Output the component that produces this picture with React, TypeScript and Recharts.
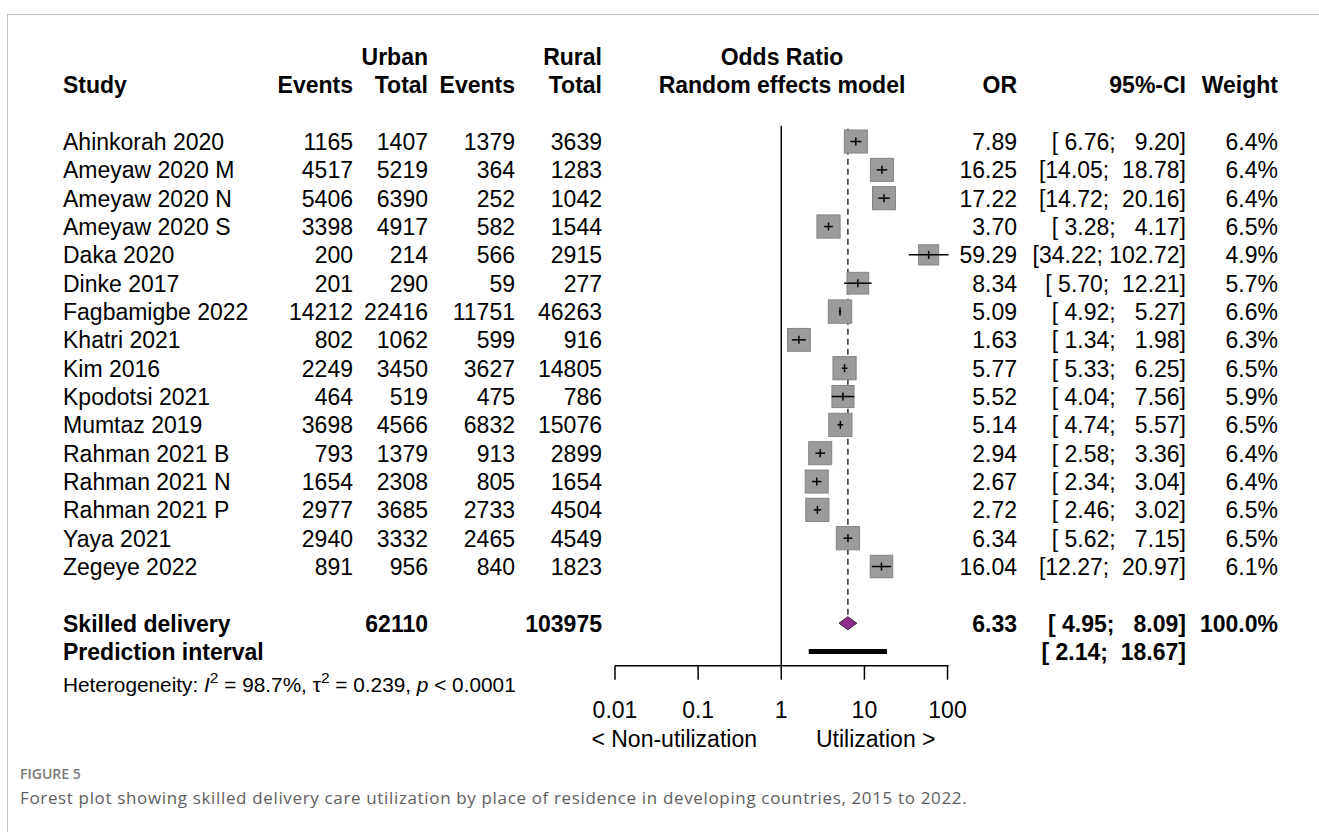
import React from 'react';
import { ComposedChart, Scatter, XAxis, YAxis } from 'recharts';

// study table
const studies = [
  'Ahinkorah 2020', 'Ameyaw 2020 M', 'Ameyaw 2020 N', 'Ameyaw 2020 S', 'Daka 2020', 'Dinke 2017',
  'Fagbamigbe 2022', 'Khatri 2021', 'Kim 2016', 'Kpodotsi 2021', 'Mumtaz 2019', 'Rahman 2021 B',
  'Rahman 2021 N', 'Rahman 2021 P', 'Yaya 2021', 'Zegeye 2022',
];
const urbanEvents = [1165, 4517, 5406, 3398, 200, 201, 14212, 802, 2249, 464, 3698, 793, 1654, 2977, 2940, 891];
const urbanTotal = [1407, 5219, 6390, 4917, 214, 290, 22416, 1062, 3450, 519, 4566, 1379, 2308, 3685, 3332, 956];
const ruralEvents = [1379, 364, 252, 582, 566, 59, 11751, 599, 3627, 475, 6832, 913, 805, 2733, 2465, 840];
const ruralTotal = [3639, 1283, 1042, 1544, 2915, 277, 46263, 916, 14805, 786, 15076, 2899, 1654, 4504, 4549, 1823];
const oddsRatio = [7.89, 16.25, 17.22, 3.7, 59.29, 8.34, 5.09, 1.63, 5.77, 5.52, 5.14, 2.94, 2.67, 2.72, 6.34, 16.04];
const ciLower = [6.76, 14.05, 14.72, 3.28, 34.22, 5.7, 4.92, 1.34, 5.33, 4.04, 4.74, 2.58, 2.34, 2.46, 5.62, 12.27];
const ciUpper = [9.2, 18.78, 20.16, 4.17, 102.72, 12.21, 5.27, 1.98, 6.25, 7.56, 5.57, 3.36, 3.04, 3.02, 7.15, 20.97];
const weights = [6.4, 6.4, 6.4, 6.5, 4.9, 5.7, 6.6, 6.3, 6.5, 5.9, 6.5, 6.4, 6.4, 6.5, 6.5, 6.1];

const pooledLabel = 'Skilled delivery';
const pooledUrbanTotal = 62110;
const pooledRuralTotal = 103975;
const pooledOR = 6.33;
const pooledLower = 4.95;
const pooledUpper = 8.09;
const pooledWeight = 100.0;
const predictionLabel = 'Prediction interval';
const predictionLower = 2.14;
const predictionUpper = 18.67;
const hetI2 = '98.7%';
const hetTau2 = '0.239';
const hetP = '< 0.0001';

const xTicks = [0.01, 0.1, 1, 10, 100];
const labelLeft = '< Non-utilization';
const labelRight = 'Utilization >';

// layout
const W = 1319;
const H = 832;
const FONT = '"Liberation Sans", Arial, Helvetica, sans-serif';
const col = { study: 63, ue: 353, ut: 428, re: 515, rt: 602, plot: 782, or: 1017, ci: 1186, w: 1278 };
const summaryRow = 17;
const predRow = 18;

const f2 = (v: number) => v.toFixed(2);
const ciText = (lo: number, hi: number) => `[${f2(lo).padStart(5)}; ${f2(hi).padStart(6)}]`;

type Cell = { text: string; x: number; anchor: 'start' | 'middle' | 'end' };
type TextRow = { x: number; y: number; bold?: boolean; cells: Cell[] };

const studyRows = studies.map((name, i) => ({
  x: oddsRatio[i],
  y: i,
  weight: weights[i],
}));

const ciSegments = studies.map((_, i) => [
  { x: ciLower[i], y: i },
  { x: ciUpper[i], y: i },
]);

const textRows: TextRow[] = [
  {
    x: 1, y: -3, bold: true,
    cells: [
      { text: 'Urban', x: col.ut, anchor: 'end' },
      { text: 'Rural', x: col.rt, anchor: 'end' },
      { text: 'Odds Ratio', x: col.plot, anchor: 'middle' },
    ],
  },
  {
    x: 1, y: -2, bold: true,
    cells: [
      { text: 'Study', x: col.study, anchor: 'start' },
      { text: 'Events', x: col.ue, anchor: 'end' },
      { text: 'Total', x: col.ut, anchor: 'end' },
      { text: 'Events', x: col.re, anchor: 'end' },
      { text: 'Total', x: col.rt, anchor: 'end' },
      { text: 'Random effects model', x: col.plot, anchor: 'middle' },
      { text: 'OR', x: col.or, anchor: 'end' },
      { text: '95%-CI', x: col.ci, anchor: 'end' },
      { text: 'Weight', x: col.w, anchor: 'end' },
    ],
  },
  ...studies.map((name, i) => ({
    x: 1, y: i,
    cells: [
      { text: name, x: col.study, anchor: 'start' as const },
      { text: String(urbanEvents[i]), x: col.ue, anchor: 'end' as const },
      { text: String(urbanTotal[i]), x: col.ut, anchor: 'end' as const },
      { text: String(ruralEvents[i]), x: col.re, anchor: 'end' as const },
      { text: String(ruralTotal[i]), x: col.rt, anchor: 'end' as const },
      { text: f2(oddsRatio[i]), x: col.or, anchor: 'end' as const },
      { text: ciText(ciLower[i], ciUpper[i]), x: col.ci, anchor: 'end' as const },
      { text: `${weights[i].toFixed(1)}%`, x: col.w, anchor: 'end' as const },
    ],
  })),
  {
    x: 1, y: summaryRow, bold: true,
    cells: [
      { text: pooledLabel, x: col.study, anchor: 'start' },
      { text: String(pooledUrbanTotal), x: col.ut, anchor: 'end' },
      { text: String(pooledRuralTotal), x: col.rt, anchor: 'end' },
      { text: f2(pooledOR), x: col.or, anchor: 'end' },
      { text: ciText(pooledLower, pooledUpper), x: col.ci, anchor: 'end' },
      { text: `${pooledWeight.toFixed(1)}%`, x: col.w, anchor: 'end' },
    ],
  },
  {
    x: 1, y: predRow, bold: true,
    cells: [
      { text: predictionLabel, x: col.study, anchor: 'start' },
      { text: ciText(predictionLower, predictionUpper), x: col.ci, anchor: 'end' },
    ],
  },
];

const diamond = [
  { x: pooledLower, y: summaryRow },
  { x: pooledOR, y: summaryRow - 0.23 },
  { x: pooledUpper, y: summaryRow },
  { x: pooledOR, y: summaryRow + 0.23 },
];
const predictionBar = [
  { x: predictionLower, y: predRow },
  { x: predictionUpper, y: predRow },
];
const nullLine = [
  { x: 1, y: -0.56 },
  { x: 1, y: 18.5 },
];
const pooledLine = [
  { x: pooledOR, y: -0.45 },
  { x: pooledOR, y: summaryRow - 0.23 },
];

const Nothing = () => <g />;

const StudyMark = (props: any) => {
  const { cx, cy, payload } = props;
  const side = 9.1 * Math.sqrt(payload.weight);
  return (
    <g>
      <rect x={cx - side / 2} y={cy - side / 2} width={side} height={side} fill="#9b9b9b" stroke="#848484" strokeWidth={1} />
      <line x1={cx} x2={cx} y1={cy - 4} y2={cy + 4} stroke="#000" strokeWidth={1.5} />
    </g>
  );
};

const RowText = (props: any) => {
  const { cy, payload } = props;
  return (
    <g>
      {payload.cells.map((c: Cell, k: number) => (
        <text
          key={k}
          x={c.x}
          y={cy + 8.5}
          textAnchor={c.anchor}
          fontSize={23}
          fontWeight={payload.bold ? 700 : 400}
          fill="#000"
          style={{ whiteSpace: 'pre' }}
        >
          {c.text}
        </text>
      ))}
    </g>
  );
};

export default function App() {
  return (
    <div style={{ position: 'absolute', left: 0, top: 0, width: W, height: H, overflow: 'hidden', background: '#fff', fontFamily: FONT }}>
      <div style={{ position: 'absolute', left: 7, top: 14, width: W, height: H, borderTop: '1.5px solid #c2c2c2', borderLeft: '1.5px solid #c2c2c2' }} />
      <div style={{ position: 'absolute', left: 0, top: 0 }}>
        <ComposedChart width={W} height={H} margin={{ top: 28.2, right: 370.5, bottom: 106.3, left: 615 }}>
          <XAxis
            type="number"
            dataKey="x"
            scale="log"
            domain={() => [0.01, 100]}
            ticks={xTicks}
            interval={0}
            height={60}
            tickSize={14}
            tickMargin={22}
            axisLine={{ stroke: '#000', strokeWidth: 1.5 }}
            tickLine={{ stroke: '#000', strokeWidth: 1.5 }}
            tick={{ fontSize: 23, fill: '#000', fontFamily: FONT }}
          />
          <YAxis type="number" dataKey="y" domain={() => [-4, 18.5]} reversed hide width={0} />

          <Scatter data={nullLine} shape={Nothing} line={{ stroke: '#000', strokeWidth: 1.5 }} isAnimationActive={false} />
          <Scatter data={pooledLine} shape={Nothing} line={{ stroke: '#3a3a3a', strokeWidth: 1.6, strokeDasharray: '6 4' }} isAnimationActive={false} />
          <Scatter data={studyRows} shape={StudyMark} isAnimationActive={false} />
          {ciSegments.map((seg, i) => (
            <Scatter key={i} data={seg} shape={Nothing} line={{ stroke: '#000', strokeWidth: 1.5 }} isAnimationActive={false} />
          ))}
          <Scatter data={diamond} shape={Nothing} lineJointType="linearClosed" line={{ stroke: '#3d1a3d', strokeWidth: 1, fill: '#8e2f8e' }} isAnimationActive={false} />
          <Scatter data={predictionBar} shape={Nothing} line={{ stroke: '#000', strokeWidth: 5 }} isAnimationActive={false} />
          <Scatter data={textRows} shape={RowText} isAnimationActive={false} />
        </ComposedChart>
      </div>
      <svg width={W} height={H} style={{ position: 'absolute', left: 0, top: 0, pointerEvents: 'none' }}>
        <text x={col.study} y={692} fontSize={20.8} fill="#000" style={{ whiteSpace: 'pre' }}>
          Heterogeneity: <tspan fontStyle="italic">I</tspan>
          <tspan dy={-9} fontSize={15.5}>2</tspan>
          <tspan dy={9}>{` = ${hetI2}, τ`}</tspan>
          <tspan dy={-9} fontSize={15.5}>2</tspan>
          <tspan dy={9}>{` = ${hetTau2}, `}</tspan>
          <tspan fontStyle="italic">p</tspan>
          <tspan>{` ${hetP}`}</tspan>
        </text>
        <text x={757} y={747} fontSize={23} textAnchor="end" fill="#000">{labelLeft}</text>
        <text x={816} y={747} fontSize={23} textAnchor="start" fill="#000">{labelRight}</text>
      </svg>
      <div style={{ position: 'absolute', left: 20, top: 765, fontFamily: '"Open Sans", sans-serif', fontSize: 14, fontWeight: 600, color: '#7a7a7a', lineHeight: '18px' }}>
        FIGURE 5
      </div>
      <div style={{ position: 'absolute', left: 20, top: 787, fontFamily: '"Open Sans", sans-serif', fontSize: 17, letterSpacing: 0.65, color: '#5e5e5e', lineHeight: '22px', whiteSpace: 'nowrap' }}>
        Forest plot showing skilled delivery care utilization by place of residence in developing countries, 2015 to 2022.
      </div>
    </div>
  );
}
